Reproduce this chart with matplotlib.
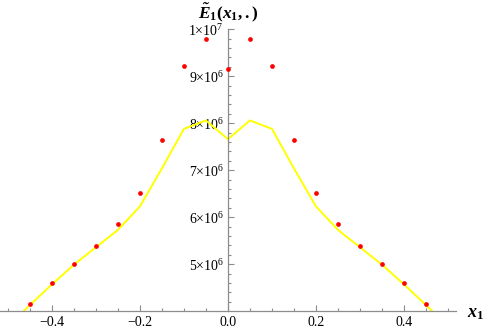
import numpy as np
import matplotlib.pyplot as plt
from matplotlib.ticker import MultipleLocator, FixedLocator, FuncFormatter

plt.rcParams["font.family"] = "Liberation Serif"
plt.rcParams["mathtext.fontset"] = "custom"
plt.rcParams["mathtext.rm"] = "Liberation Serif"
plt.rcParams["mathtext.it"] = "Liberation Serif:italic"
plt.rcParams["mathtext.bf"] = "Liberation Serif:bold"
plt.rcParams["mathtext.bfit"] = "Liberation Serif:bold:italic"

# sampled points (red dots)
x_pts = [-0.45, -0.40, -0.35, -0.30, -0.25, -0.20, -0.15, -0.10, -0.05, 0.00,
         0.05, 0.10, 0.15, 0.20, 0.25, 0.30, 0.35, 0.40, 0.45]
y_pts = [4.16e6, 4.59e6, 5.01e6, 5.39e6, 5.85e6, 6.51e6, 7.65e6, 9.22e6, 9.79e6, 9.16e6,
         9.79e6, 9.22e6, 7.65e6, 6.51e6, 5.85e6, 5.39e6, 5.01e6, 4.59e6, 4.16e6]

# approximating curve (yellow)
x_line = [-0.50, -0.45, -0.40, -0.35, -0.30, -0.25, -0.20, -0.15, -0.10, -0.05, 0.00,
          0.05, 0.10, 0.15, 0.20, 0.25, 0.30, 0.35, 0.40, 0.45, 0.50]
y_line = [3.68e6, 4.13e6, 4.57e6, 4.99e6, 5.36e6, 5.73e6, 6.23e6, 7.04e6, 7.88e6, 8.06e6, 7.66e6,
          8.06e6, 7.88e6, 7.04e6, 6.23e6, 5.73e6, 5.36e6, 4.99e6, 4.57e6, 4.13e6, 3.68e6]

x_ticks = [-0.4, -0.2, 0.0, 0.2, 0.4]
x_labels = [u"\u22120.4", u"\u22120.2", "0.0", "0.2", "0.4"]

fig = plt.figure(figsize=(4.85, 3.31), dpi=100)
ax = fig.add_axes([0.0, 0.0613, 0.940, 0.8502])

ax.plot(x_line, y_line, color="#ffff00", lw=1.4, zorder=2)
ax.plot(x_pts, y_pts, "o", color="#ff0000", ms=3.4, mec="none", zorder=3)

ax.set_xlim(-0.518, 0.518)
ax.set_ylim(4.01e6, 1.0e7)

axis_col = "#8c8c8c"
for s in ["top", "right"]:
    ax.spines[s].set_visible(False)
ax.spines["left"].set_position(("data", 0))
for s in ["left", "bottom"]:
    ax.spines[s].set_color(axis_col)
    ax.spines[s].set_linewidth(0.9)

ax.xaxis.set_major_locator(FixedLocator(x_ticks))
ax.xaxis.set_minor_locator(MultipleLocator(0.05))
ax.set_xticklabels(x_labels)

ax.yaxis.set_major_locator(MultipleLocator(1e6))
ax.yaxis.set_minor_locator(MultipleLocator(2e5))


def yfmt(v, p):
    m = int(round(v / 1e6))
    if m == 10:
        return r"$\mathregular{1{\times}10^{7}}$"
    return r"$\mathregular{%d{\times}10^{6}}$" % m


ax.yaxis.set_major_formatter(FuncFormatter(yfmt))

ax.tick_params(axis="both", which="both", direction="in", colors=axis_col,
               labelcolor="black", labelsize=10, width=0.8)
ax.tick_params(axis="both", which="major", length=4)
ax.tick_params(axis="both", which="minor", length=2.3)
ax.tick_params(axis="x", pad=4)
ax.tick_params(axis="y", pad=3)

fig.text(228 / 485, 1 - 13 / 331,
         r"$\mathbfit{\tilde{E}}_{\mathbf{1}}\mathbf{(}\mathbfit{x}_{\mathbf{1}}\mathbf{,.)}$",
         ha="center", va="center", fontsize=12.5)
fig.text(476 / 485, 1 - 313 / 331, r"$\mathbfit{x}_{\mathbf{1}}$",
         ha="center", va="center", fontsize=13)

fig.savefig("out.png", dpi=100)
